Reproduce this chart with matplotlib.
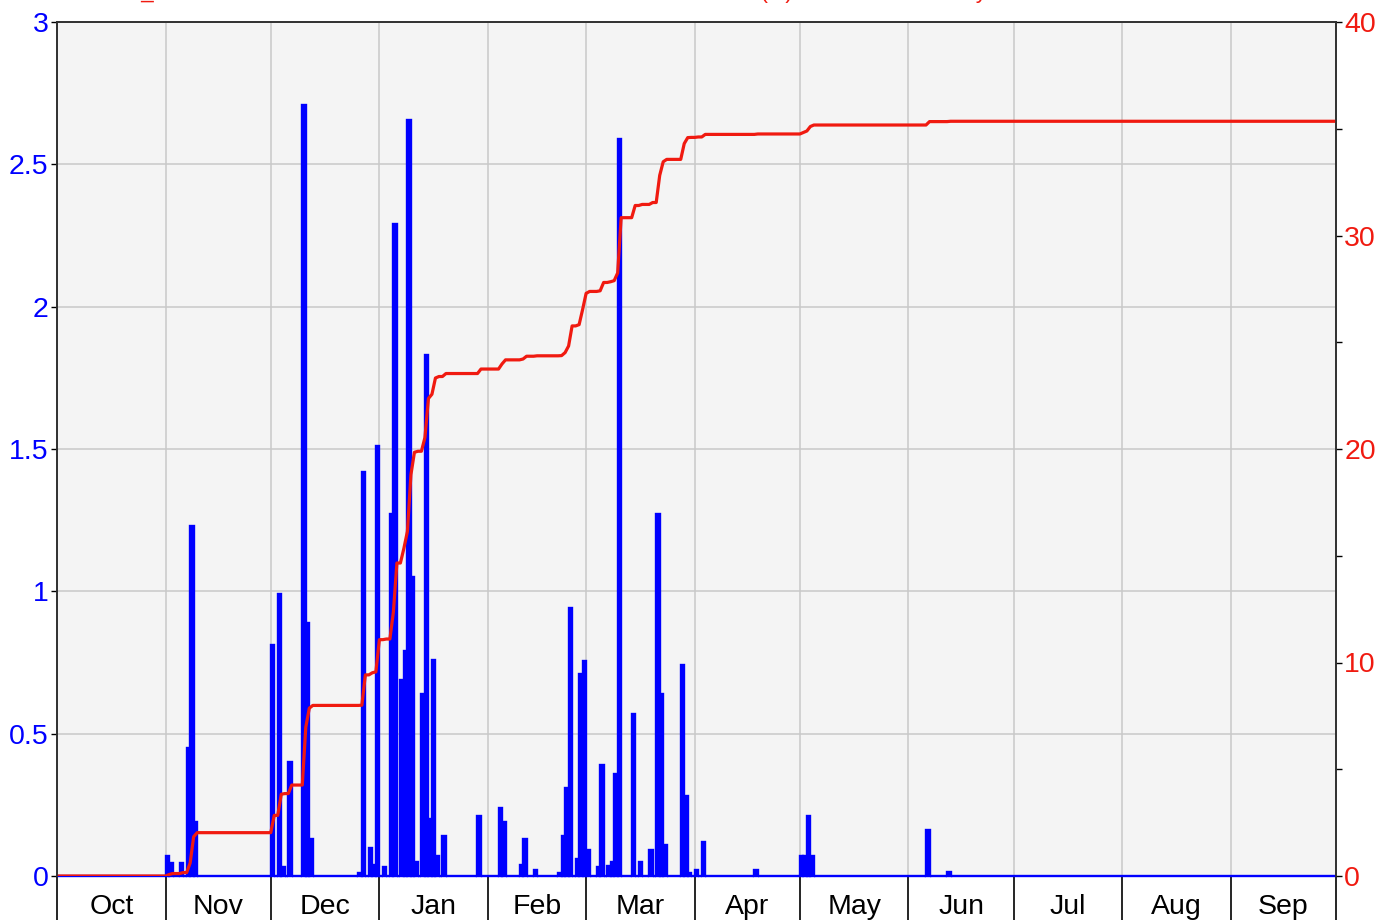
import matplotlib
matplotlib.use('Agg')
import matplotlib.pyplot as plt
import numpy as np

plt.rcParams['font.family'] = ['Liberation Sans', 'DejaVu Sans']

# water year, Oct 1 = day 0
month_names = ['Oct', 'Nov', 'Dec', 'Jan', 'Feb', 'Mar', 'Apr', 'May', 'Jun', 'Jul', 'Aug', 'Sep']
month_days = [31, 30, 31, 31, 28, 31, 30, 31, 30, 31, 31, 30]

# days with rain (index from Oct 1) and daily amount in inches
rain_day = [31, 32, 35, 37, 38, 39,
            61, 63, 64, 66, 70, 71, 72,
            86, 87, 89, 90, 91, 93, 95, 96, 98, 99, 100, 101, 102, 104, 105, 106, 107, 108, 110,
            120, 126, 127, 132, 133, 136, 143, 144, 145, 146, 148, 149, 150, 151,
            154, 155, 157, 158, 159, 160, 164, 166, 169, 171, 172, 173, 178, 179, 180, 182, 184,
            199, 212, 213, 214, 215, 248, 254]
rain_in = [0.07, 0.045, 0.045, 0.45, 1.23, 0.19,
           0.81, 0.99, 0.03, 0.40, 2.71, 0.89, 0.13,
           0.01, 1.42, 0.10, 0.04, 1.51, 0.03, 1.27, 2.29, 0.69, 0.79, 2.655, 1.05, 0.05, 0.64, 1.83, 0.20, 0.76, 0.07, 0.14,
           0.21, 0.24, 0.19, 0.04, 0.13, 0.02, 0.01, 0.14, 0.31, 0.94, 0.06, 0.71, 0.755, 0.09,
           0.03, 0.39, 0.035, 0.05, 0.36, 2.59, 0.57, 0.05, 0.09, 1.27, 0.64, 0.11, 0.74, 0.28, 0.01, 0.02, 0.12,
           0.02, 0.07, 0.07, 0.21, 0.07, 0.16, 0.015]

title = 'RAIN_GAUGE Total Rainfall in Blue and Cumulative Rainfall in Red (in) for the entire Study Area'

precip = np.zeros(sum(month_days))
precip[rain_day] = rain_in
cum = np.concatenate([[0.0], np.cumsum(precip)])
days = np.arange(len(precip))
edges = np.concatenate([[0], np.cumsum(month_days)])
mids = (edges[:-1] + edges[1:]) / 2

W, H = 1384, 923
fig = plt.figure(figsize=(W / 100, H / 100), dpi=100)
ax = fig.add_axes([57 / W, 1 - 876 / H, (1336 - 57) / W, (876 - 22) / H])
ax.set_facecolor('#f4f4f4')
ax.set_axisbelow(True)

blue = '#0000ff'
red = '#f01a10'
fs = 20.5

ax.bar(days, precip, width=1, align='edge', color=blue, edgecolor=blue, linewidth=1.7, clip_on=False)
ax.set_xlim(0, edges[-1])
ax.set_ylim(0, 3)
ax.set_yticks(np.arange(0, 3.01, 0.5))
ax.set_yticklabels(['0', '0.5', '1', '1.5', '2', '2.5', '3'])
ax.tick_params(axis='y', colors='black', labelcolor=blue, labelsize=fs, length=4, width=1, pad=2)

ax.set_xticks(edges)
ax.set_xticklabels([])
ax.set_xticks(mids, minor=True)
ax.set_xticklabels(month_names, minor=True, fontsize=fs)
ax.tick_params(axis='x', which='major', length=32, width=1.2, color='black', direction='out')
ax.tick_params(axis='x', which='minor', length=0, pad=13)
ax.grid(True, which='major', color='#c8c8c8', linewidth=1.1)

ax2 = ax.twinx()
ax2.plot(np.arange(len(cum)), cum, color=red, linewidth=2.3)
ax2.set_ylim(0, 40)
ax2.set_yticks([0, 10, 20, 30, 40])
ax2.set_yticks([5, 15, 25, 35], minor=True)
ax2.tick_params(axis='y', which='both', colors='black', labelcolor=red, labelsize=fs, length=4, width=1, pad=2)

for a in (ax, ax2):
    for s in a.spines.values():
        s.set_color('#303030')
        s.set_linewidth(1.2)
    a.spines['bottom'].set_visible(False)

fig.text(88 / W, 1 + 1.5 / H, title, color=red, fontsize=16, ha='left', va='baseline')

fig.savefig('out.png', dpi=100)
